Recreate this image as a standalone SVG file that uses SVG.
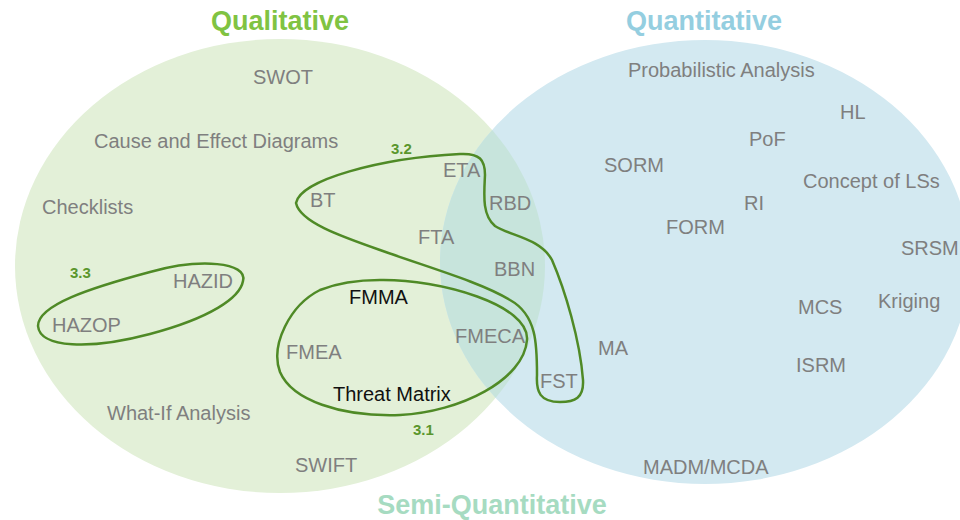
<svg xmlns="http://www.w3.org/2000/svg" width="960" height="520" viewBox="0 0 960 520">
<style>
.t{font-family:"Liberation Sans",Arial,sans-serif;font-size:20px;fill:#7f7f7f}
.k{font-family:"Liberation Sans",Arial,sans-serif;font-size:20px;fill:#111}
.h{font-family:"Liberation Sans",Arial,sans-serif;font-size:27px;font-weight:bold}
.n{font-family:"Liberation Sans",Arial,sans-serif;font-size:15px;font-weight:bold;fill:#5a962c}
.loop{fill:none;stroke:#4f8a26;stroke-width:2.5}
</style>
<defs>
<clipPath id="cg"><ellipse cx="280" cy="266" rx="265" ry="227"/></clipPath>
</defs>
<rect width="960" height="520" fill="#fff"/>
<g id="sets">
<ellipse id="qual-set" cx="280" cy="266" rx="265" ry="227" fill="#e3f0d8"/>
<ellipse id="quant-set" cx="705" cy="262" rx="265" ry="222" fill="#d3e9f1"/>
<ellipse cx="705" cy="262" rx="265" ry="222" fill="#c7e4dc" clip-path="url(#cg)"/>
</g>
<g id="titles">
<text class="h" x="280" y="30" text-anchor="middle" fill="#80c342">Qualitative</text>
<text class="h" x="704" y="30" text-anchor="middle" fill="#94cee0">Quantitative</text>
<text class="h" x="492" y="514" text-anchor="middle" fill="#a6dbc1">Semi-Quantitative</text>
</g>
<g id="connectors">
<path id="loop-3-3" class="loop" d="M 243 281 C 248 262, 200 258, 150 272 C 90 288, 38 305, 38 326 C 40 348, 90 350, 150 334 C 210 318, 240 298, 243 281 Z"/>
<path id="loop-3-1" class="loop" d="M 380 280 C 440 279, 530 305, 527 340 C 524 380, 460 412, 400 415 C 340 417, 292 400, 280 372 C 270 345, 290 305, 320 290 C 340 282, 360 280, 380 280 Z"/>
<path id="loop-3-2" class="loop" d="M 296 203 C 300 180, 380 158, 460 154 C 480 153, 485 160, 485 175 C 484 195, 482 215, 495 226 C 510 236, 540 238, 552 260 C 565 290, 580 340, 583 380 C 584 398, 575 402, 560 402 C 540 402, 536 392, 537 375 C 537 345, 537 315, 510 300 C 480 282, 430 268, 380 250 C 340 236, 300 222, 296 203 Z"/>
<text class="n" x="70" y="278">3.3</text>
<text class="n" x="391" y="154">3.2</text>
<text class="n" x="413" y="435">3.1</text>
</g>
<g id="n-swot"><text class="t" x="253" y="84">SWOT</text></g>
<g id="n-cause"><text class="t" x="94" y="148">Cause and Effect Diagrams</text></g>
<g id="n-checklists"><text class="t" x="42" y="214">Checklists</text></g>
<g id="n-hazid"><text class="t" x="173" y="288">HAZID</text></g>
<g id="n-hazop"><text class="t" x="52" y="332">HAZOP</text></g>
<g id="n-fmea"><text class="t" x="286" y="359">FMEA</text></g>
<g id="n-whatif"><text class="t" x="107" y="420">What-If Analysis</text></g>
<g id="n-swift"><text class="t" x="295" y="472">SWIFT</text></g>
<g id="n-bt"><text class="t" x="310" y="207">BT</text></g>
<g id="n-eta"><text class="t" x="443" y="177">ETA</text></g>
<g id="n-rbd"><text class="t" x="489" y="210">RBD</text></g>
<g id="n-fta"><text class="t" x="418" y="244">FTA</text></g>
<g id="n-bbn"><text class="t" x="494" y="276">BBN</text></g>
<g id="n-fmma"><text class="k" x="349" y="304">FMMA</text></g>
<g id="n-fmeca"><text class="t" x="455" y="343">FMECA</text></g>
<g id="n-threat"><text class="k" x="333" y="401">Threat Matrix</text></g>
<g id="n-fst"><text class="t" x="540" y="388">FST</text></g>
<g id="n-ma"><text class="t" x="598" y="355">MA</text></g>
<g id="n-prob"><text class="t" x="628" y="77">Probabilistic Analysis</text></g>
<g id="n-hl"><text class="t" x="840" y="119">HL</text></g>
<g id="n-pof"><text class="t" x="749" y="146">PoF</text></g>
<g id="n-sorm"><text class="t" x="604" y="172">SORM</text></g>
<g id="n-lss"><text class="t" x="803" y="188">Concept of LSs</text></g>
<g id="n-ri"><text class="t" x="744" y="210">RI</text></g>
<g id="n-form"><text class="t" x="666" y="234">FORM</text></g>
<g id="n-srsm"><text class="t" x="901" y="255">SRSM</text></g>
<g id="n-mcs"><text class="t" x="798" y="314">MCS</text></g>
<g id="n-kriging"><text class="t" x="878" y="308">Kriging</text></g>
<g id="n-isrm"><text class="t" x="796" y="372">ISRM</text></g>
<g id="n-madm"><text class="t" x="643" y="474">MADM/MCDA</text></g>
</svg>
